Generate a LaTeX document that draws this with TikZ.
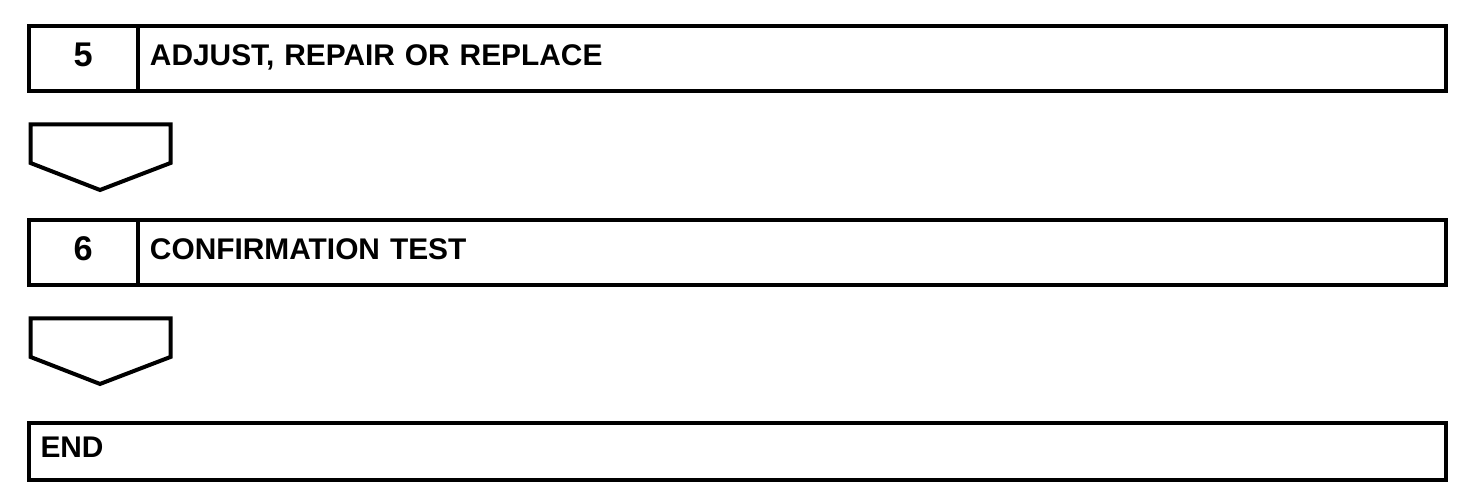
\documentclass[tikz,border=0pt]{standalone}
\usepackage{fontspec}
\setmainfont{Liberation Sans}
\usetikzlibrary{positioning, calc}

\begin{document}
\begin{tikzpicture}[
  x=0.02cm, y=-0.02cm,
  numbox/.style={rectangle, draw, line width=0.08cm, outer sep=0pt,
    inner sep=0pt, minimum width=2.19cm, minimum height=1.31cm,
    font=\fontsize{19.5}{22}\selectfont\bfseries,
    text height=13pt, text depth=4.6pt},
  titlebox/.style={rectangle, draw, line width=0.08cm, outer sep=0pt,
    inner xsep=0.24cm, inner ysep=0pt, minimum height=1.31cm,
    text width=25.68cm, align=left,
    font=\fontsize{17}{20}\selectfont\bfseries,
    text height=12pt, text depth=4.6pt},
  chev/.style={draw, line width=0.08cm}
]
\useasboundingbox (0,0) rectangle (1472,504);

\node[numbox] (num5) at (83.25,58.75) {5};
\node[titlebox, right=0pt of num5] (title5) {ADJUST, REPAIR OR REPLACE};

\node[numbox, below=2.57cm of num5] (num6) {6};
\node[titlebox, right=0pt of num6] (title6) {CONFIRMATION TEST};

\node[titlebox, minimum height=1.14cm, text width=27.87cm,
  below right=2.75cm and 0cm of num6.south west, anchor=north west] (endbox) {END};

% down arrows between the steps
\draw[chev] ($(num5.south west)+(2,33)$) -- ++(140,0) -- ++(0,38.5)
  -- ++(-70.5,27) -- ++(-69.5,-27) -- cycle;
\draw[chev] ($(num6.south west)+(2,33)$) -- ++(140,0) -- ++(0,38.5)
  -- ++(-70.5,27) -- ++(-69.5,-27) -- cycle;
\end{tikzpicture}
\end{document}
